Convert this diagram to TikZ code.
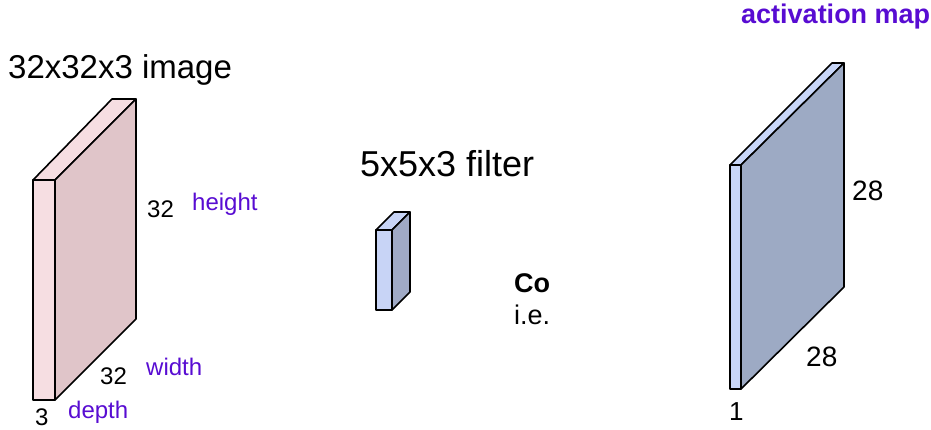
\documentclass[tikz,border=0pt]{standalone}
\usepackage{fontspec}
\setmainfont{Liberation Sans}
\usetikzlibrary{positioning,calc}

\definecolor{imgfront}{RGB}{246,222,226}
\definecolor{imgside}{RGB}{224,197,201}
\definecolor{filfront}{RGB}{200,212,246}
\definecolor{filside}{RGB}{160,170,198}
\definecolor{actfront}{RGB}{200,214,248}
\definecolor{actside}{RGB}{157,170,196}
\definecolor{dimpurple}{RGB}{88,12,210}

\begin{document}
\begin{tikzpicture}[x=1pt,y=-1pt]
\tikzset{face/.style={draw=black,line width=1.6pt,line join=round},
  title/.style={font=\fontsize{33}{36}\selectfont,inner sep=0pt,anchor=base west},
  dimlabel/.style={font=\fontsize{24}{28}\selectfont,inner sep=0pt,anchor=base west},
  namelabel/.style={dimlabel,text=dimpurple}}
\useasboundingbox (0,0) rectangle (931,429);
% input image
\draw[face,fill=imgfront] (33,180) -- (112,99) -- (136,99) -- (55,180) -- cycle;
\draw[face,fill=imgside] (55,180) -- (136,99) -- (136,319) -- (55,400) -- cycle;
\draw[face,fill=imgfront] (33,180) rectangle (55,400);
\node[title] (imgtitle) at (8,78) {32x32x3 image};
\node[dimlabel] (imgh) at (147,217) {32};
\node[namelabel] (imghname) at (192,210) {height};
\node[dimlabel] (imgw) at (100,384) {32};
\node[namelabel] (imgwname) at (146,375) {width};
\node[dimlabel] (imgd) at (35,425) {3};
\node[namelabel] (imgdname) at (68,418) {depth};
% filter
\draw[face,fill=filfront] (376,230) -- (394,212) -- (410,212) -- (392,230) -- cycle;
\draw[face,fill=filside] (392,230) -- (410,212) -- (410,292) -- (392,310) -- cycle;
\draw[face,fill=filfront] (376,230) rectangle (392,310);
\node[title,font=\fontsize{36}{40}\selectfont] (filtitle) at (360,176) {5x5x3 filter};
\node[dimlabel,font=\fontsize{27}{30}\bfseries] (conv) at (514,292) {Co};
\node[dimlabel,font=\fontsize{27}{30}\selectfont] (ie) at (514,324) {i.e.};
% activation map
\draw[face,fill=actfront] (730,165) -- (832,63) -- (844,63) -- (741,165) -- cycle;
\draw[face,fill=actside] (741,165) -- (844,63) -- (844,287) -- (741,389) -- cycle;
\draw[face,fill=actfront] (730,165) rectangle (741,389);
\node[dimlabel,font=\fontsize{27}{30}\bfseries,text=dimpurple] (acttitle) at (741,23) {activation map};
\node[dimlabel,font=\fontsize{28}{30}\selectfont] (acth) at (852,200) {28};
\node[dimlabel,font=\fontsize{28}{30}\selectfont] (actw) at (806,366) {28};
\node[dimlabel,font=\fontsize{26}{30}\selectfont] (actd) at (729,420) {1};
\end{tikzpicture}
\end{document}
